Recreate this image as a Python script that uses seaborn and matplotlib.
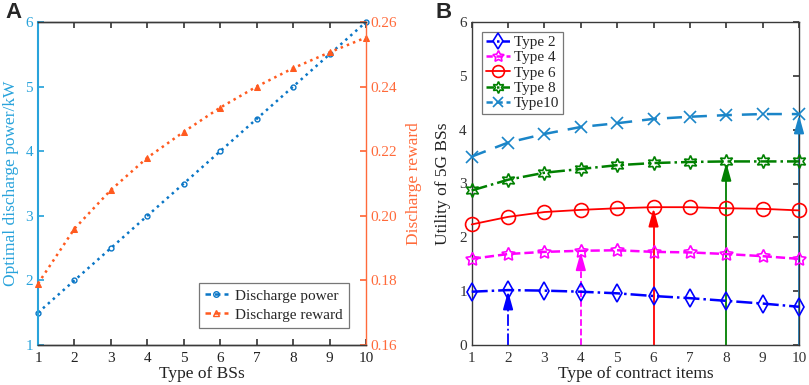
import numpy as np
import pandas as pd
import matplotlib
matplotlib.use("Agg")
import matplotlib.pyplot as plt
from matplotlib.lines import Line2D
import seaborn as sns

# ---------------- data ----------------
bs_types = [1, 2, 3, 4, 5, 6, 7, 8, 9, 10]
discharge_power = [1.5, 2.0, 2.5, 3.0, 3.5, 4.0, 4.5, 5.0, 5.5, 6.0]
discharge_reward = [0.179, 0.196, 0.208, 0.218, 0.226, 0.2335, 0.240, 0.2457, 0.2506, 0.2552]

contract_items = [1, 2, 3, 4, 5, 6, 7, 8, 9, 10]
type2 = [0.99, 1.02, 1.01, 0.99, 0.96, 0.91, 0.87, 0.82, 0.77, 0.71]
type4 = [1.60, 1.69, 1.73, 1.75, 1.76, 1.73, 1.72, 1.69, 1.65, 1.60]
type6 = [2.24, 2.38, 2.47, 2.51, 2.54, 2.56, 2.56, 2.54, 2.53, 2.50]
type8 = [2.87, 3.07, 3.20, 3.27, 3.34, 3.38, 3.40, 3.41, 3.41, 3.41]
type10 = [3.50, 3.76, 3.92, 4.05, 4.12, 4.20, 4.24, 4.27, 4.29, 4.29]
type_labels = ["Type 2", "Type 4", "Type 6", "Type 8", "Type10"]
type_index = [2, 4, 6, 8, 10]

# ---------------- style ----------------
sns.set_theme(style="white")
plt.rcParams['font.family'] = ['Liberation Serif', 'DejaVu Serif']
plt.rcParams['mathtext.fontset'] = 'stix'

SPINE = "#3a3a3a"
BLUE_AX = "#29a3db"
BLUE_LN = "#0a76c6"
ORANGE = "#ff5a1f"
ORANGE_AX = "#ff6a3a"

fig = plt.figure(figsize=(8.09, 3.85), dpi=100)
axA = fig.add_axes([38/809, 1-345/385, (366-38)/809, (345-22)/385])
axB = fig.add_axes([471.7/809, 1-345/385, (799-471.7)/809, (345-22)/385])

# ---------------- Panel A ----------------
dfA = pd.DataFrame({"type": bs_types, "power": discharge_power, "reward": discharge_reward})
sns.lineplot(data=dfA, x="type", y="power", ax=axA, color=BLUE_LN, linestyle=":",
             linewidth=1.8, marker="o", markersize=3.5, markerfacecolor="none",
             markeredgecolor=BLUE_LN, markeredgewidth=1.0, clip_on=False)
axA2 = axA.twinx()
sns.lineplot(data=dfA, x="type", y="reward", ax=axA2, color=ORANGE, linestyle=":",
             linewidth=1.8, marker="^", markersize=4, markerfacecolor=ORANGE,
             markeredgecolor=ORANGE, clip_on=False)

axA.set_xlim(1, 10)
axA.set_ylim(1, 6)
axA2.set_ylim(0.16, 0.26)
axA.set_xticks(bs_types)
axA.set_yticks([1, 2, 3, 4, 5, 6])
axA2.set_yticks([0.16, 0.18, 0.20, 0.22, 0.24, 0.26])
axA2.set_yticklabels(["0.16", "0.18", "0.20", "0.22", "0.24", "0.26"])
axA.set_xlabel("Type of BSs", fontsize=12.5, color="#222222", labelpad=1)
axA.set_ylabel("Optimal discharge power/kW", fontsize=12.5, color=BLUE_AX, labelpad=5)
axA2.set_ylabel("Discharge reward", fontsize=12.5, color=ORANGE_AX, labelpad=6)

for ax in (axA, axA2):
    for s in ax.spines.values():
        s.set_color(SPINE)
        s.set_linewidth(1.0)
axA.spines['left'].set_color(BLUE_AX)
axA.spines['left'].set_linewidth(1.5)
axA2.spines['left'].set_visible(False)
axA.spines['right'].set_visible(False)
axA2.spines['right'].set_color(ORANGE_AX)
axA2.spines['right'].set_linewidth(1.0)
axA.tick_params(axis='x', direction='in', top=True, bottom=True, length=4, labelsize=11,
                colors=SPINE, labelcolor="#222222", pad=5)
axA.tick_params(axis='y', direction='in', left=True, right=False, length=4, labelsize=11,
                colors=BLUE_AX, labelcolor=BLUE_AX)
axA2.tick_params(axis='y', direction='in', right=True, left=False, length=4, labelsize=11,
                 colors=ORANGE_AX, labelcolor=ORANGE_AX)
axA2.tick_params(axis='x', top=False, bottom=False)

handlesA = [Line2D([], [], color=BLUE_LN, linestyle=(0, (2.2, 1.6)), linewidth=1.8, marker="o",
                   markersize=4, markerfacecolor="none"),
            Line2D([], [], color=ORANGE, linestyle=(0, (2.2, 1.6)), linewidth=1.8, marker="^",
                   markersize=4.5, markerfacecolor="none")]
legA = axA2.legend(handlesA, ["Discharge power", "Discharge reward"], loc="lower right",
                   bbox_to_anchor=(0.948, 0.053), borderaxespad=0, fontsize=11,
                   frameon=True, fancybox=False, handlelength=1.5, borderpad=0.4,
                   labelspacing=0.35, handletextpad=0.5)
legA.get_frame().set_edgecolor("#555555")
legA.get_frame().set_linewidth(0.9)

fig.text(5/809, 1-2/385, "A", fontsize=16, fontweight="bold", family="Liberation Sans",
         va="top", ha="left")

# ---------------- Panel B ----------------
seriesB = [type2, type4, type6, type8, type10]
colorsB = ["#0000ff", "#ff00ff", "#ff0000", "#008000", "#1a85c8"]
stylesB = ["-.", "--", "-", "-.", (0, (6, 4))]
legend_styles = [(0, (3, 1.2, 1, 1.2)), (0, (2.5, 1.5)), "-", (0, (3, 1.2, 1, 1.2)), (0, (2.5, 1.5))]
markersB = ["d", (5, 1, 0), "o", (6, 1, 0), "x"]
msizes = [9, 10, 10, 10, 8]
arrow_styles = ["-.", "--", "-", "-", "-"]

rows = []
for lab, vals in zip(type_labels, seriesB):
    for x, v in zip(contract_items, vals):
        rows.append({"item": x, "utility": v, "type": lab})
dfB = pd.DataFrame(rows)

handlesB = []
for lab, col, ls, lls, mk, ms in zip(type_labels, colorsB, stylesB, legend_styles, markersB, msizes):
    sub = dfB[dfB["type"] == lab]
    sns.lineplot(data=sub, x="item", y="utility", ax=axB, color=col, linestyle=ls,
                 linewidth=1.3 if ls == "-" else 1.8, marker=mk, markersize=ms,
                 markerfacecolor="none", markeredgecolor=col, markeredgewidth=1.2,
                 clip_on=False, zorder=3)
    handlesB.append(Line2D([], [], color=col, linestyle=lls,
                           linewidth=1.3 if ls == "-" else 1.8, marker=mk,
                           markersize=ms * 0.85, markerfacecolor="none", markeredgecolor=col,
                           markeredgewidth=1.2))

# arrows from x-axis to the optimal point of each type
for idx, vals, col, ls in zip(type_index, seriesB, colorsB, arrow_styles):
    yv = vals[contract_items.index(idx)]
    axB.plot([idx, idx], [0, yv - 0.12], color=col, linestyle=ls, linewidth=1.3, zorder=2)
    axB.annotate("", xy=(idx, yv - 0.02), xytext=(idx, yv - 0.3),
                 arrowprops=dict(arrowstyle="-|>,head_length=0.9,head_width=0.25",
                                 color=col, lw=1.3, shrinkA=0, shrinkB=0), zorder=4)

axB.set_xlim(1, 10)
axB.set_ylim(0, 6)
axB.set_xticks(contract_items)
axB.set_yticks([0, 1, 2, 3, 4, 5, 6])
axB.set_xlabel("Type of contract items", fontsize=12.5, color="#222222", labelpad=1)
axB.set_ylabel("Utility of 5G BSs", fontsize=12.5, color="#222222", labelpad=6)
for s in axB.spines.values():
    s.set_color(SPINE)
    s.set_linewidth(1.0)
axB.tick_params(axis='both', direction='in', top=True, right=True, length=4, labelsize=11,
                colors=SPINE, labelcolor="#333333")
axB.tick_params(axis='x', pad=5)

legB = axB.legend(handlesB, type_labels, loc="upper left", bbox_to_anchor=(0.031, 0.97),
                  borderaxespad=0, fontsize=11, frameon=True, fancybox=False,
                  handlelength=1.6, borderpad=0.25, labelspacing=0.1, handletextpad=0.25)
legB.get_frame().set_edgecolor("#555555")
legB.get_frame().set_linewidth(0.9)

fig.text(436/809, 1-2/385, "B", fontsize=16, fontweight="bold", family="Liberation Sans",
         va="top", ha="left")

fig.savefig("out.png", dpi=100)
